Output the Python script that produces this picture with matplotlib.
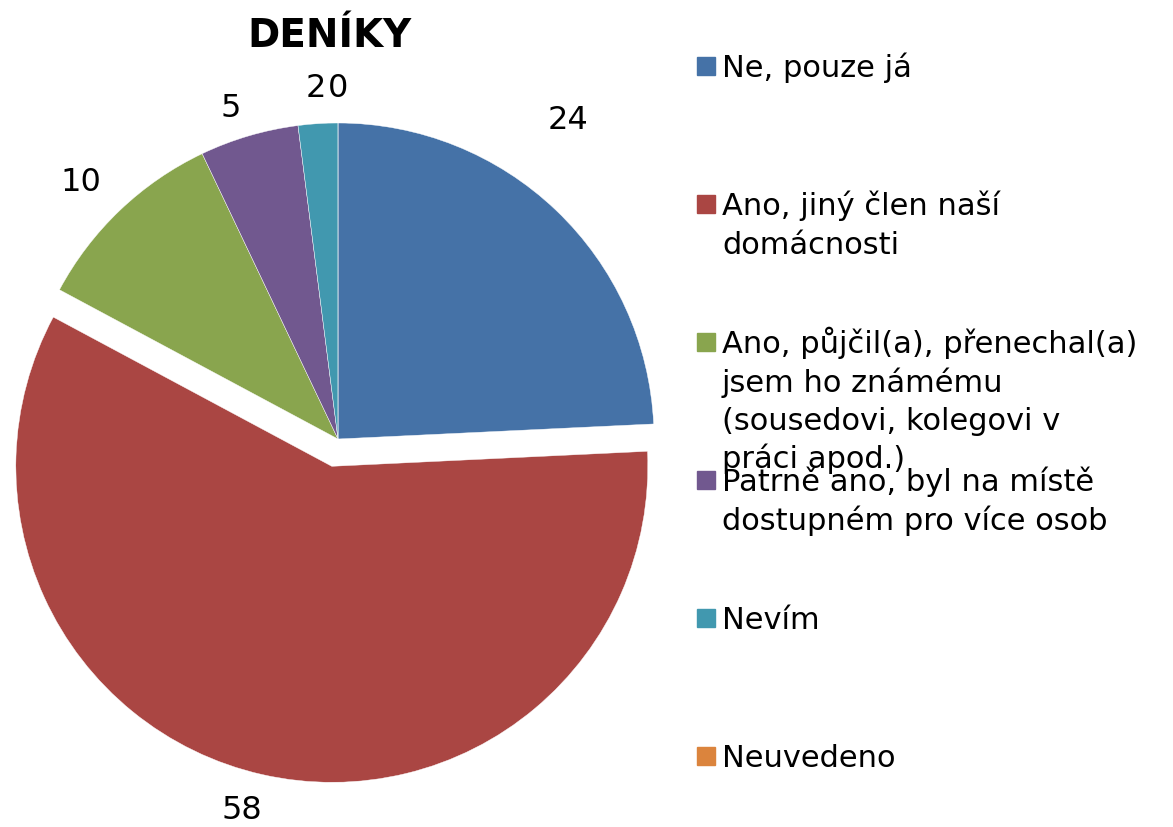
import numpy as np
import matplotlib.pyplot as plt
from matplotlib.patches import Rectangle

title = "DENÍKY"
categories = [
    "Ne, pouze já",
    "Ano, jiný člen naší\ndomácnosti",
    "Ano, půjčil(a), přenechal(a)\njsem ho známému\n(sousedovi, kolegovi v\npráci apod.)",
    "Patrně ano, byl na místě\ndostupném pro více osob",
    "Nevím",
    "Neuvedeno",
]
values = [24, 58, 10, 5, 2, 0]
colors = ["#4572A7", "#AA4643", "#89A54E", "#71588F", "#4198AF", "#DB843D"]

# label placement tweaks (radial distance, angle shift in degrees)
label_dist = [1.245, 1.125, 1.15, 1.10, 1.11, 1.11]
label_shift = [7.8, -1.9, 1.5, 1.7, 0, 0]

W, H = 1173, 827
fig = plt.figure(figsize=(W / 100, H / 100), dpi=100)
ax = fig.add_axes([0, 0, 1, 1])

# work in pixel units, y measured upward
cx, cy, r = 338, H - 439, 316
explode = [0, 28, 0, 0, 0, 0]

wedges, texts = ax.pie(values, colors=colors, startangle=90, counterclock=False,
                       center=(cx, cy), radius=r, explode=explode,
                       labels=[str(v) for v in values], labeldistance=1.12,
                       wedgeprops=dict(linewidth=0.3, edgecolor="white"),
                       textprops=dict(fontsize=23))

for w, t, d, s in zip(wedges, texts, label_dist, label_shift):
    wx, wy = w.center
    th = np.deg2rad((w.theta1 + w.theta2) / 2 + s)
    t.set_position((wx + d * r * np.cos(th), wy + d * r * np.sin(th)))
    t.set_ha("center")
    t.set_va("center")

ax.set_xlim(0, W)
ax.set_ylim(0, H)
ax.set_aspect("auto")
ax.axis("off")

fig.text(329 / W, 1 - 36 / H, title, fontsize=28, fontweight="bold",
         ha="center", va="center")

# legend drawn by hand: Excel keeps fixed spacing even when text overlaps
base0, step, line_h = 77, 138, 38.5
for i, (lab, c) in enumerate(zip(categories, colors)):
    yb = H - (base0 + i * step)
    ax.add_patch(Rectangle((697, yb + 2), 18, 18, color=c, clip_on=False))
    for k, line in enumerate(lab.split("\n")):
        ax.text(722, yb - k * line_h, line, fontsize=22, ha="left", va="baseline")

fig.savefig("out.png", dpi=100)
